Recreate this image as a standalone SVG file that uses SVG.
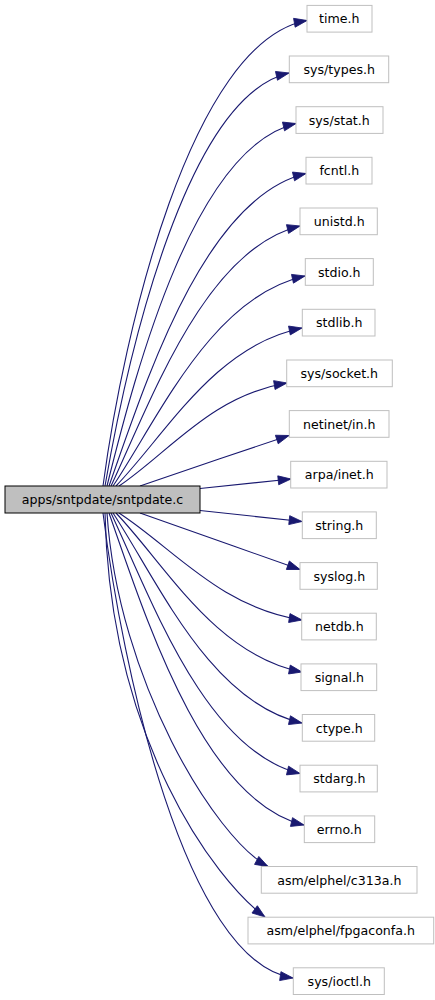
<svg xmlns="http://www.w3.org/2000/svg" width="435" height="1000" viewBox="0 0 435 1000">
<style>
.n rect{fill:#fff;stroke:#bfbfbf;stroke-width:1}
.m rect{fill:#bfbfbf;stroke:#000;stroke-width:1}
text{font-family:"DejaVu Sans","Liberation Sans",sans-serif;font-size:12.6px;fill:#000;text-anchor:middle}
#edges path{fill:none;stroke:#191970;stroke-width:1.1;marker-end:url(#ah)}
</style>
<defs>
<marker id="ah" markerUnits="userSpaceOnUse" markerWidth="13" markerHeight="9" viewBox="0 0 12.7 8.9" refX="12.7" refY="4.45" orient="auto" overflow="visible">
<path d="M0,0 L12.7,4.45 L0,8.9 Z" fill="#191970" stroke="#191970" stroke-width="0.8"/>
</marker>
</defs>
<rect width="435" height="1000" fill="#fff"/>
<g id="edges">
<path d="M103,486 C123.4,332.4 190.7,41.4 307,20.5"/>
<path d="M105,486 C128.7,349.7 187.4,96.1 289,73"/>
<path d="M107,486 C136.7,366.4 194.7,147.4 296,123.5"/>
<path d="M109,486 C145.4,382.9 203.8,197.6 306,173.5"/>
<path d="M111,486 C151.3,400.2 205.1,248.9 300,226"/>
<path d="M113,486 C159.3,416.7 211.9,296.6 305,276"/>
<path d="M116,486 C166.2,433.9 215,345.2 302,328"/>
<path d="M119,486 C169.4,452 211.4,395.4 287,383"/>
<path d="M140,486 C180,472.5 245,450 289,435.5"/>
<path d="M200,488.5 L291,479"/>
<path d="M200,510.5 L302,521.5"/>
<path d="M140,513 C180,527 250,552 300,569.5"/>
<path d="M119,513 C173.5,548.3 219.5,607.3 302,620"/>
<path d="M116,513 C166,565.5 215,654.8 302,672"/>
<path d="M113,513 C158.5,582.3 210.3,702.4 302,723"/>
<path d="M111,513 C151.3,599 205.1,750.8 300,773.5"/>
<path d="M109,513 C145.1,616 202.8,801 304,825"/>
<path d="M107,513 C118,680 215,838 268,866.5"/>
<path d="M105,513 C110,740 215,880 265,917"/>
<path d="M103,513 C122,666.5 184.7,962 293,978"/>
</g>
<g id="main" class="m"><rect x="5" y="486" width="195" height="27"/><text x="102.5" y="504">apps/sntpdate/sntpdate.c</text></g>
<g id="n0" class="n"><rect x="307" y="5.4" width="65" height="26.7"/><text x="339.3" y="23.3">time.h</text></g>
<g id="n1" class="n"><rect x="289.3" y="56" width="99.4" height="26.7"/><text x="339.3" y="74">sys/types.h</text></g>
<g id="n2" class="n"><rect x="296" y="106.7" width="87" height="26.7"/><text x="339.3" y="124.6">sys/stat.h</text></g>
<g id="n3" class="n"><rect x="306" y="157.3" width="66" height="26.7"/><text x="339.3" y="175.3">fcntl.h</text></g>
<g id="n4" class="n"><rect x="300" y="208" width="77.3" height="26.7"/><text x="339.3" y="225.9">unistd.h</text></g>
<g id="n5" class="n"><rect x="305.3" y="258.6" width="68" height="26.7"/><text x="339.3" y="276.6">stdio.h</text></g>
<g id="n6" class="n"><rect x="302.3" y="309.3" width="72.7" height="26.7"/><text x="339.3" y="327.3">stdlib.h</text></g>
<g id="n7" class="n"><rect x="286.7" y="360" width="105.6" height="26.7"/><text x="339.3" y="377.9">sys/socket.h</text></g>
<g id="n8" class="n"><rect x="289.3" y="410.6" width="99.7" height="26.7"/><text x="339.3" y="428.6">netinet/in.h</text></g>
<g id="n9" class="n"><rect x="290.7" y="461.3" width="96.3" height="26.7"/><text x="339.3" y="479.2">arpa/inet.h</text></g>
<g id="n10" class="n"><rect x="302.3" y="511.9" width="74" height="26.7"/><text x="339.3" y="529.9">string.h</text></g>
<g id="n11" class="n"><rect x="300" y="562.6" width="77.3" height="26.7"/><text x="339.3" y="580.5">syslog.h</text></g>
<g id="n12" class="n"><rect x="301.7" y="613.2" width="74.6" height="26.7"/><text x="339.3" y="631.2">netdb.h</text></g>
<g id="n13" class="n"><rect x="301" y="663.9" width="75.7" height="26.7"/><text x="339.3" y="681.8">signal.h</text></g>
<g id="n14" class="n"><rect x="302.3" y="714.5" width="72.4" height="26.7"/><text x="339.3" y="732.5">ctype.h</text></g>
<g id="n15" class="n"><rect x="300" y="765.2" width="77.3" height="26.7"/><text x="339.3" y="783.2">stdarg.h</text></g>
<g id="n16" class="n"><rect x="304.3" y="815.9" width="70.4" height="26.7"/><text x="339.3" y="833.8">errno.h</text></g>
<g id="n17" class="n"><rect x="261.3" y="866.5" width="155.7" height="26.7"/><text x="339.3" y="884.5">asm/elphel/c313a.h</text></g>
<g id="n18" class="n"><rect x="248" y="917.2" width="185.7" height="26.7"/><text x="340.8" y="935.1">asm/elphel/fpgaconfa.h</text></g>
<g id="n19" class="n"><rect x="293.3" y="967.8" width="91" height="26.7"/><text x="339.3" y="985.8">sys/ioctl.h</text></g>
</svg>
